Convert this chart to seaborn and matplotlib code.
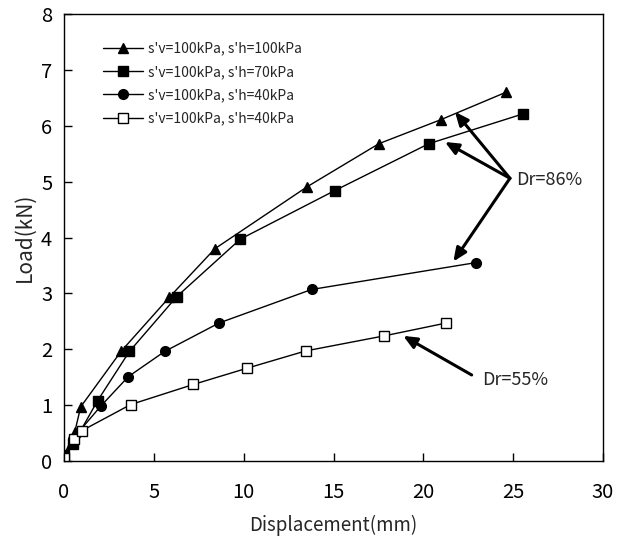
import matplotlib
matplotlib.use("Agg")
import matplotlib.pyplot as plt
import seaborn as sns
import pandas as pd

# data (displacement mm, load kN)
tri_x = [0.0, 0.6, 0.93, 3.17, 5.86, 8.4, 13.54, 17.53, 20.98, 24.6]
tri_y = [0.1, 0.52, 0.97, 1.96, 2.93, 3.8, 4.91, 5.68, 6.11, 6.6]
sq_x = [0.0, 0.5, 1.87, 3.64, 6.27, 9.81, 15.07, 20.31, 25.52]
sq_y = [0.1, 0.3, 1.08, 1.96, 2.94, 3.97, 4.84, 5.68, 6.21]
cir_x = [0.0, 0.5, 2.04, 3.58, 5.6, 8.63, 13.78, 22.91]
cir_y = [0.1, 0.4, 0.98, 1.51, 1.96, 2.47, 3.07, 3.55]
osq_x = [0.0, 0.56, 0.98, 3.71, 7.2, 10.18, 13.45, 17.83, 21.28]
osq_y = [0.05, 0.39, 0.54, 1.01, 1.37, 1.66, 1.97, 2.24, 2.47]
labels = ["s'v=100kPa, s'h=100kPa", "s'v=100kPa, s'h=70kPa",
          "s'v=100kPa, s'h=40kPa", "s'v=100kPa, s'h=40kPa"]
x_ticks = [0, 5, 10, 15, 20, 25, 30]
y_ticks = [0, 1, 2, 3, 4, 5, 6, 7, 8]

sns.set_style("ticks")
plt.rcParams['font.family'] = ['Noto Sans CJK KR', 'DejaVu Sans']

fig = plt.figure(figsize=(6.25, 5.4), dpi=100)
ax = fig.add_axes([0.1024, 0.1463, 0.8624, 0.8277])

series = [(tri_x, tri_y, '^', 'black', 7), (sq_x, sq_y, 's', 'black', 7),
          (cir_x, cir_y, 'o', 'black', 7), (osq_x, osq_y, 's', 'white', 7)]
for (xs, ys, m, fc, ms), lab in zip(series, labels):
    df = pd.DataFrame({'x': xs, 'y': ys})
    sns.lineplot(data=df, x='x', y='y', ax=ax, color='black', linewidth=1.0,
                 marker=m, markersize=ms, markerfacecolor=fc,
                 markeredgecolor='black', markeredgewidth=1.0, label=lab,
                 sort=False)

ax.set_xlim(0, 30)
ax.set_ylim(0, 8)
ax.set_xticks(x_ticks)
ax.set_yticks(y_ticks)
ax.tick_params(direction='in', length=6, width=1, labelsize=14.5, colors='black')
ax.tick_params(axis='x', pad=15)
ax.tick_params(axis='y', pad=8.5)
for s in ax.spines.values():
    s.set_linewidth(1.0)
    s.set_color('black')
ax.set_xlabel("Displacement(mm)", fontsize=13.5, labelpad=9)
ax.set_ylabel("Load(kN)", fontsize=15, labelpad=4)

leg = ax.legend(loc='upper left', bbox_to_anchor=(0.062, 0.951), frameon=False,
                fontsize=10, handlelength=2.9, handletextpad=0.36,
                labelspacing=0.67, borderaxespad=0)

arrow_kw = dict(arrowstyle='-|>,head_length=0.8,head_width=0.35', color='black', lw=2.2,
                shrinkA=0, shrinkB=0)
for tx, ty in [(21.76, 6.25), (21.2, 5.71), (21.67, 3.57)]:
    ax.annotate("", xy=(tx, ty), xytext=(24.82, 5.06), arrowprops=arrow_kw)
ax.annotate("", xy=(18.88, 2.24), xytext=(22.69, 1.54), arrowprops=arrow_kw)
ax.text(25.15, 5.03, "Dr=86%", fontsize=13, va='center', ha='left')
ax.text(23.25, 1.45, "Dr=55%", fontsize=13, va='center', ha='left')

fig.savefig("out.png", dpi=100)
